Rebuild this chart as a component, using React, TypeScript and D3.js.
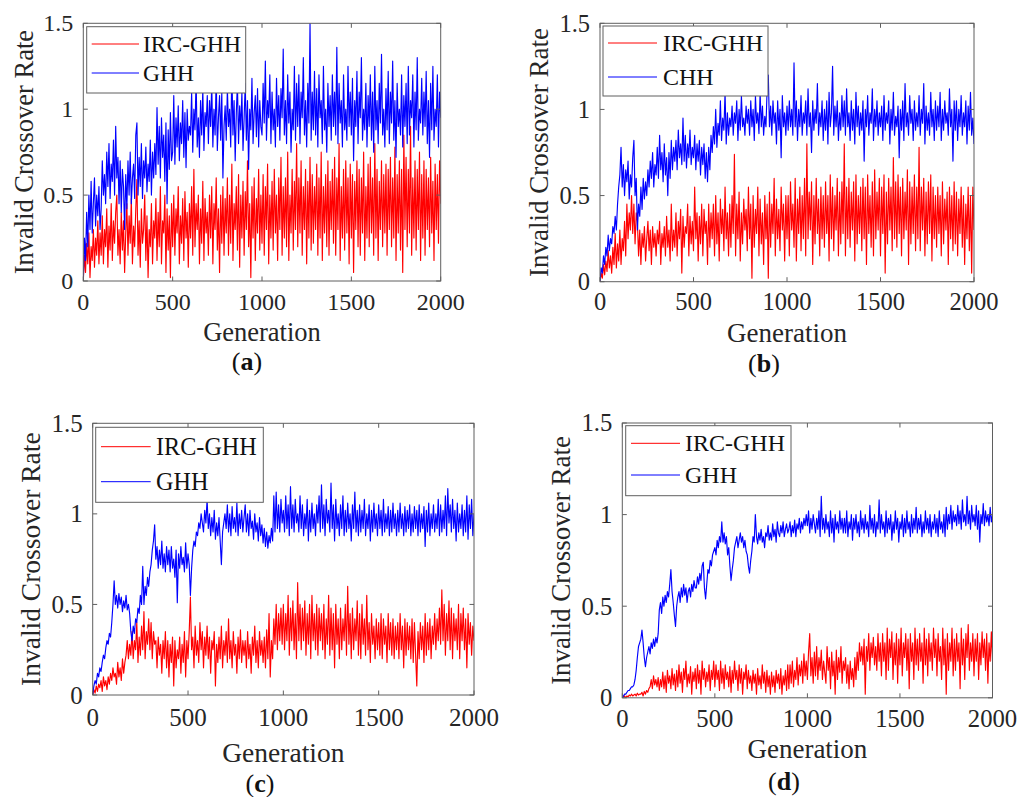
import React from "react";
import * as d3 from "d3";

// ---------- data ----------
// Each series: samples evenly spaced over generations 0..2000 (16 samples per 100 generations).
const MAX_GEN = 2000;
const X_TICKS = [0, 500, 1000, 1500, 2000];
const Y_TICKS = [0, 0.5, 1, 1.5];
const Y_TICK_LABELS = ["0", "0.5", "1", "1.5"];
const X_LABEL = "Generation";
const Y_LABEL = "Invalid Crossover Rate";
const PANEL_LETTERS = ["a", "b", "c", "d"];
const RED_NAMES = ["IRC-GHH", "IRC-GHH", "IRC-GHH", "IRC-GHH"];
const BLUE_NAMES = ["GHH", "CHH", "GHH", "GHH"];

// (a)
const IRC_A = [
  0, .15, .05, .22, .1, .28, .02, .2, .12, .3, .08, .25, .15, .35, .1, .28,
  .15, .38, .1, .3, .2, .42, .08, .32, .18, .45, .12, .35, .22, .4, .5, .15,
  .3, .1, .4, .18, .35, .05, .28, .45, .15, .38, .22, .48, .1, .32, .2, .42,
  .59, .15, .35, .08, .42, .22, .3, .5, .12, .38, .02, .3, .2, .45, .1, .35,
  .25, .48, .12, .4, .2, .55, .1, .35, .28, .5, .05, .42, .18, .38, .02, .45,
  .2, .5, .15, .42, .28, .55, .1, .38, .22, .48, .12, .52, .25, .4, .08, .45,
  .25, .55, .15, .65, .2, .45, .3, .5, .1, .42, .22, .58, .12, .48, .28, .4,
  .15, .5, .25, .55, .1, .45, .3, .6, .18, .42, .05, .5, .22, .55, .15, .48,
  .28, .6, .15, .5, .22, .68, .12, .45, .3, .55, .18, .62, .08, .5, .25, .58,
  .15, .52, .3, .7, .2, .45, .02, .55, .25, .6, .12, .48, .28, .65, .18, .5,
  .22, .62, .15, .55, .3, .68, .1, .5, .25, .58, .18, .65, .28, .5, .12, .6,
  .3, .72, .15, .55, .25, .6, .2, .75, .12, .5, .28, .65, .18, .58, .3, .8,
  .2, .6, .28, .7, .15, .55, .3, .65, .1, .58, .25, .72, .18, .62, .22, .55,
  .3, .68, .15, .6, .25, .75, .12, .55, .28, .62, .2, .7, .15, .58, .3, .65,
  .22, .72, .15, .6, .3, .8, .12, .55, .25, .65, .18, .7, .28, .6, .1, .68,
  .25, .62, .05, .58, .3, .7, .2, .65, .15, .6, .28, .75, .12, .55, .25, .68,
  .2, .72, .28, .6, .15, .8, .25, .65, .12, .58, .3, .7, .2, .62, .28, .68,
  .15, .65, .3, .72, .2, .6, .25, .78, .12, .62, .28, .7, .18, .65, .05, .85,
  .3, .72, .2, .65, .28, .9, .15, .6, .25, .7, .18, .65, .3, .75, .12, .62,
  .25, .7, .15, .65, .3, .6, .2, .72, .28, .58, .12, .68, .3, .62, .22, .7,
  .45,
];
const GHH_A = [
  0, .25, .12, .4, .2, .5, .3, .58, .28, .45, .6, .32, .5, .38, .55, .3,
  .42, .7, .5, .62, .45, .75, .55, .8, .48, .68, .58, .82, .5, .9, .6, .72,
  .45, .7, .4, .65, .55, .3, .62, .42, .7, .5, .75, .45, .6, .68, .48, .85,
  .92, .5, .72, .55, .8, .48, .7, .6, .78, .52, .68, .58, .82, .5, .75, .6,
  .8, .62, 1.01, .68, .9, .6, .95, .72, .85, .58, .92, .45, .88, .65, .98, .7,
  .75, 1.08, .68, .95, .78, 1.02, .7, .92, .8, 1.05, .72, .98, .66, 1.0, .82, .9,
  .85, 1.1, .75, 1.0, .88, 1.18, .78, .95, .72, 1.05, .85, 1.12, .76, .98, .9, 1.08,
  .8, 1.05, .9, 1.15, .78, 1.0, .85, 1.2, .76, .95, 1.08, .82, 1.1, .6, .9, 1.02,
  .82, 1.12, .9, 1.0, .78, 1.25, .85, 1.05, .7, .98, 1.15, .8, 1.02, .88, 1.1, .76,
  .95, 1.15, .82, 1.05, .65, 1.0, .88, 1.18, .8, .98, 1.08, .84, 1.12, .78, 1.05, .9,
  .85, 1.15, .92, 1.28, .82, 1.05, .95, 1.2, .8, 1.1, .88, 1.0, .78, 1.18, .9, 1.08,
  .82, 1.12, .95, 1.35, .85, 1.05, .8, 1.2, .92, 1.1, .75, 1.0, .88, 1.25, .82, 1.15,
  .9, 1.2, .8, 1.1, .95, 1.3, .85, 1.05, .78, 1.15, .92, 1.5, .82, 1.1, .88, 1.22,
  .85, 1.12, .78, 1.2, .95, 1.05, .8, 1.25, .88, 1.0, .75, 1.15, .9, 1.08, .82, 1.2,
  .9, 1.1, .85, 1.36, .8, 1.15, .92, 1.05, .78, 1.2, .88, 1.0, .82, 1.25, .9, 1.1,
  .85, 1.18, .7, 1.05, .9, 1.22, .8, 1.1, .95, 1.3, .82, 1.0, .88, 1.15, .78, 1.08,
  .9, 1.2, .82, 1.1, .75, 1.25, .88, 1.05, .8, 1.15, .92, 1.32, .85, 1.0, .78, 1.12,
  .88, 1.22, .8, 1.1, .92, 1.28, .82, 1.05, .72, 1.15, .9, 1.0, .85, 1.2, .78, 1.08,
  .9, 1.15, .8, 1.25, .85, 1.05, .95, 1.2, .78, 1.1, .88, 1.3, .82, 1.0, .92, 1.18,
  .85, 1.1, .9, 1.22, .8, 1.05, .72, 1.15, .88, 1.25, .82, 1.0, .9, 1.2, .78, 1.1,
  .95,
];
// (b)
const IRC_B = [
  0, .05, .02, .1, .04, .12, .06, .18, .08, .15, .05, .2, .1, .28, .08, .22,
  .12, .3, .1, .25, .18, .35, .15, .45, .25, .4, .3, .5, .28, .45, .22, .4,
  .35, .15, .3, .1, .28, .2, .32, .12, .25, .35, .18, .3, .1, .32, .2, .28,
  .15, .3, .22, .35, .1, .28, .2, .32, .15, .38, .2, .3, .12, .45, .18, .3,
  .2, .4, .15, .35, .25, .42, .05, .38, .2, .32, .28, .45, .15, .38, .22, .35,
  .18, .55, .25, .4, .12, .38, .22, .45, .15, .42, .28, .35, .1, .45, .2, .4,
  .25, .45, .15, .5, .22, .4, .12, .48, .28, .42, .18, .55, .25, .4, .15, .45,
  .2, .5, .28, .74, .15, .45, .25, .52, .12, .4, .22, .48, .3, .42, .18, .55,
  .25, .45, .02, .5, .2, .42, .28, .55, .15, .48, .22, .4, .1, .5, .25, .45,
  .02, .52, .2, .45, .28, .6, .15, .48, .25, .42, .18, .55, .3, .45, .12, .5,
  .25, .5, .15, .58, .3, .45, .2, .6, .12, .48, .28, .55, .18, .5, .25, .6,
  .15, .8, .25, .52, .3, .58, .1, .5, .22, .6, .28, .48, .15, .55, .25, .5,
  .2, .58, .28, .5, .12, .62, .25, .55, .18, .5, .3, .6, .15, .52, .22, .58,
  .28, .8, .15, .55, .25, .6, .2, .52, .3, .58, .12, .62, .22, .5, .28, .55,
  .18, .6, .25, .55, .1, .62, .28, .5, .2, .58, .15, .65, .25, .52, .3, .6,
  .15, .55, .28, .62, .05, .52, .22, .6, .3, .55, .18, .72, .25, .58, .2, .62,
  .28, .55, .15, .6, .25, .52, .3, .65, .1, .58, .22, .55, .28, .62, .18, .55,
  .25, .78, .18, .55, .3, .6, .15, .52, .22, .58, .28, .62, .12, .55, .25, .5,
  .2, .55, .28, .5, .15, .58, .22, .48, .3, .52, .1, .55, .25, .5, .18, .58,
  .22, .52, .15, .48, .28, .55, .2, .5, .1, .45, .25, .55, .18, .5, .05, .55,
  .3,
];
const CHH_B = [
  0, .08, .05, .15, .1, .2, .15, .27, .18, .25, .22, .32, .28, .38, .3, .45,
  .55, .62, .78, .55, .68, .5, .65, .58, .7, .48, .62, .55, .72, .82, .5, .6,
  .3, .45, .38, .55, .42, .6, .48, .58, .5, .65, .55, .7, .6, .75, .55, .68,
  .62, .78, .6, .85, .65, .75, .58, .8, .62, .72, .5, .75, .6, .82, .65, .78,
  .7, .82, .65, .88, .72, .8, .68, .95, .7, .85, .66, .8, .72, .88, .68, .78,
  .72, .85, .65, .8, .7, .82, .62, .78, .68, .8, .6, .75, .58, .78, .65, .85,
  .75, .9, .8, 1.0, .78, .92, .85, 1.05, .82, .95, .88, 1.1, .8, .98, .85, .95,
  .9, 1.02, .85, .98, .92, 1.05, .82, 1.0, .88, 1.08, .9, .95, .85, 1.02, .92, 1.0,
  .85, 1.05, .9, 1.0, .82, 1.08, .92, .98, .86, 1.1, .9, 1.02, .85, .96, .9, 1.12,
  1.2, .9, 1.02, .85, 1.05, .92, .98, .8, 1.05, .88, 1.0, .72, 1.08, .9, .98, .85,
  1.02, .88, 1.05, .9, 1.0, .85, 1.27, .9, 1.05, .82, 1.0, .9, 1.08, .85, .98, .92,
  1.05, .85, 1.12, .9, .98, .75, 1.05, .88, 1.0, .92, 1.15, .85, .98, .9, 1.05, .82,
  1.0, .88, 1.05, .8, 1.1, .9, .98, 1.25, .85, 1.02, .9, 1.05, .82, .98, .88, 1.08,
  .9, 1.05, .85, 1.12, .9, .98, .82, 1.05, .88, 1.0, .8, 1.1, .9, 1.02, .85, .98,
  .88, 1.05, .7, 1.0, .9, 1.08, .85, .98, .92, 1.12, .82, 1.0, .9, 1.05, .85, .98,
  .9, 1.02, .82, 1.08, .88, .98, .92, 1.05, .8, 1.0, .88, 1.1, .85, .96, .9, 1.02,
  .72, 1.0, .88, 1.05, .82, 1.15, .9, .98, .85, 1.08, .92, 1.0, .82, 1.05, .88, .98,
  .9, 1.08, .85, 1.0, .92, 1.15, .8, 1.02, .88, .98, .85, 1.1, .9, 1.0, .82, 1.05,
  .88, 1.02, .9, 1.1, .82, 1.0, .88, 1.05, .92, .98, .85, 1.12, .9, 1.0, .7, 1.05,
  .88, 1.05, .82, 1.0, .9, 1.08, .85, .98, .9, 1.05, .8, 1.02, .88, 1.1, .85, .95,
  .8,
];
// (c)
const IRC_C = [
  0, .03, .01, .05, .02, .06, .04, .08, .02, .1, .05, .08, .03, .1, .06, .12,
  .08, .15, .1, .12, .06, .18, .1, .15, .08, .2, .12, .18, .22, .3, .2, .28,
  .22, .35, .2, .3, .25, .4, .18, .32, .22, .38, .25, .46, .2, .35, .28, .42,
  .25, .4, .2, .35, .28, .3, .15, .32, .22, .28, .12, .3, .2, .35, .15, .3,
  .1, .28, .18, .32, .05, .3, .15, .25, .2, .32, .12, .28, .18, .35, .1, .3,
  .2, .35, .54, .25, .32, .15, .38, .22, .3, .18, .4, .25, .35, .15, .32, .22,
  .38, .2, .32, .12, .3, .25, .35, .05, .28, .18, .32, .2, .38, .15, .3, .22,
  .35, .18, .42, .2, .3, .15, .35, .22, .28, .12, .32, .2, .36, .18, .3, .22,
  .3, .15, .35, .2, .28, .12, .32, .22, .38, .18, .3, .15, .35, .22, .3, .18,
  .32, .15, .36, .2, .45, .1, .3, .2, .42, .28, .5, .25, .45, .3, .48, .28,
  .5, .25, .45, .3, .55, .22, .48, .3, .52, .25, .45, .2, .62, .3, .5, .25,
  .48, .3, .52, .22, .45, .28, .5, .2, .55, .3, .45, .25, .5, .22, .48, .3,
  .45, .25, .5, .2, .42, .28, .55, .22, .48, .25, .45, .15, .5, .28, .42, .2,
  .48, .25, .42, .3, .5, .22, .6, .28, .45, .2, .48, .25, .42, .3, .52, .22,
  .45, .2, .5, .28, .42, .22, .55, .25, .4, .18, .45, .28, .38, .2, .42, .25,
  .4, .22, .45, .2, .42, .28, .38, .18, .45, .25, .4, .22, .42, .2, .38, .25,
  .4, .2, .45, .25, .38, .15, .42, .22, .4, .25, .38, .2, .42, .18, .4, .22,
  .05, .35, .2, .4, .25, .38, .18, .45, .22, .4, .25, .42, .2, .38, .28, .45,
  .25, .42, .3, .48, .28, .58, .3, .5, .22, .45, .3, .52, .25, .48, .2, .45,
  .3, .42, .25, .5, .2, .45, .3, .48, .25, .42, .15, .45, .28, .4, .22, .38,
  .3,
];
const GHH_C = [
  0, .05, .08, .06, .12, .1, .15, .13, .18, .22, .2, .26, .3, .28, .34, .32,
  .4, .5, .63, .5, .55, .48, .56, .5, .54, .46, .52, .48, .55, .47, .5, .45,
  .35, .3, .38, .34, .42, .4, .48, .45, .55, .5, .71, .5, .6, .55, .65, .6,
  .68, .72, .8, .85, .94, .75, .82, .7, .8, .72, .85, .7, .78, .68, .82, .72,
  .8, .68, .82, .7, .75, .65, .8, .51, .78, .7, .82, .72, .76, .68, .84, .7,
  .78, .72, .55, .7, .8, .85, .82, .9, .88, .95, .92, 1.0, .95, .9, 1.02, .95,
  1.08, .92, 1.0, .88, .98, .9, 1.02, .86, .95, .88, .98, .85, .72, .9, .95, 1.0,
  .92, 1.05, .9, 1.0, .88, 1.04, .92, .98, .9, 1.06, .88, 1.0, .92, 1.02, .9, .98,
  1.05, .9, 1.0, .88, 1.02, .92, .96, .86, 1.0, .9, .95, .85, .98, .88, .94, .84,
  .92, .82, .9, .81, .88, .84, .92, .85, 1.1, .9, 1.12, .92, 1.05, .9, 1.08, .95,
  1.02, .9, 1.1, .92, 1.05, .88, 1.15, .92, 1.05, .9, 1.08, .95, 1.0, .9, 1.1, .92,
  1.05, .88, 1.0, .92, 1.08, .85, 1.02, .9, 1.06, .92, 1.0, .88, 1.05, .95, 1.1, .9,
  1.16, .92, 1.05, .88, 1.08, .95, 1.02, .9, 1.17, .92, 1.05, .85, 1.08, .92, 1.0, .88,
  1.05, .92, 1.1, .88, 1.02, .9, 1.06, .92, 1.0, .85, 1.05, .92, 1.12, .9, 1.02, .88,
  1.05, .9, 1.02, .92, 1.08, .88, 1.0, .92, 1.05, .85, 1.02, .9, 1.06, .92, 1.0, .88,
  1.05, .92, 1.02, .88, 1.08, .9, 1.0, .92, 1.04, .88, 1.02, .9, 1.06, .92, 1.0, .88,
  1.02, .9, 1.06, .92, 1.0, .88, 1.04, .9, 1.02, .92, 1.05, .88, 1.0, .9, 1.04, .92,
  1.02, .88, 1.05, .9, 1.0, .92, 1.04, .82, 1.02, .9, 1.06, .88, 1.0, .92, 1.05, .9,
  1.0, .92, 1.08, .88, 1.05, .9, 1.02, .92, 1.1, .88, 1.14, .95, 1.05, .9, 1.08, .92,
  1.02, .85, 1.06, .9, 1.0, .92, 1.05, .88, 1.02, .9, 1.1, .86, 1.05, .92, 1.08, .88,
  1.0,
];
// (d)
const IRC_D = [
  0, .005, .01, 0, .01, .005, .015, .01, .02, .01, .015, .02, .01, .025, .015, .02,
  .02, .03, .01, .035, .02, .04, .03, .05, .06, .1, .05, .12, .07, .1, .06, .11,
  .04, .1, .06, .14, .05, .12, .03, .15, .08, .12, .05, .16, .07, .13, .04, .15,
  .06, .18, .08, .14, .03, .16, .1, .2, .06, .13, .08, .17, .02, .14, .09, .16,
  .05, .18, .08, .15, .02, .2, .1, .16, .06, .14, .09, .18, .04, .15, .1, .2,
  .06, .18, .1, .15, .04, .2, .08, .16, .05, .18, .1, .14, .06, .17, .03, .15,
  .08, .2, .1, .15, .04, .18, .08, .16, .02, .14, .1, .18, .05, .15, .08, .12,
  .04, .15, .08, .13, .02, .16, .07, .12, .05, .18, .08, .14, .03, .15, .06, .12,
  .02, .14, .06, .12, .03, .15, .08, .13, .05, .16, .02, .12, .07, .15, .04, .18,
  .05, .18, .08, .2, .06, .15, .1, .22, .07, .18, .12, .2, .08, .24, .12, .2,
  .1, .25, .35, .12, .22, .08, .25, .12, .28, .1, .22, .15, .26, .1, .2, .14,
  .08, .28, .15, .22, .05, .25, .12, .2, .02, .26, .1, .22, .14, .28, .08, .2,
  .15, .22, .08, .18, .05, .2, .1, .16, .06, .22, .1, .25, .15, .3, .2, .28,
  .18, .32, .02, .28, .2, .35, .15, .3, .22, .33, .18, .28, .15, .35, .2, .3,
  .12, .35, .2, .3, .1, .38, .15, .32, .22, .36, .1, .3, .18, .35, .08, .32,
  .18, .38, .12, .3, .22, .35, .15, .32, .05, .35, .2, .3, .1, .38, .18, .32,
  .15, .35, .2, .3, .08, .38, .18, .32, .12, .35, .2, .3, .15, .38, .22, .32,
  .12, .35, .2, .28, .1, .38, .18, .32, .02, .35, .15, .3, .2, .38, .12, .32,
  .15, .35, .2, .3, .05, .38, .18, .32, .1, .35, .22, .4, .15, .3, .2, .35,
  .12, .32, .2, .35, .1, .3, .18, .36, .22, .32, .15, .35, .08, .3, .2, .36,
  .2,
];
const GHH_D = [
  0, .01, .02, .02, .03, .04, .04, .05, .06, .06, .07, .1, .15, .22, .28, .3,
  .32, .37, .3, .22, .17, .22, .25, .28, .24, .3, .27, .32, .28, .33, .3, .35,
  .48, .52, .46, .55, .5, .56, .52, .58, .55, .62, .7, .58, .52, .45, .39, .5,
  .55, .58, .52, .6, .55, .62, .56, .6, .52, .58, .6, .55, .62, .58, .64, .6,
  .6, .66, .62, .68, .64, .72, .74, .6, .54, .62, .7, .68, .75, .72, .78, .8,
  .82, .78, .86, .82, .88, .85, .96, .85, .9, .84, .88, .78, .82, .72, .64, .7,
  .75, .82, .85, .88, .82, .86, .9, .85, .88, .82, .86, .8, .78, .72, .68, .75,
  .8, .88, .85, 1.0, .88, .84, .9, .86, .92, .85, .88, .82, .9, .88, .94, .86,
  .9, .86, .95, .88, .92, .85, .96, .9, .88, .94, .9, .96, .88, .92, .95, .9,
  .92, .96, .88, .94, .9, .97, .88, .95, .92, .98, .9, .96, .92, .98, .94, 1.0,
  .94, 1.02, .9, .98, .92, 1.0, .95, .9, .98, .92, 1.02, .88, 1.1, .92, .98, .9,
  1.0, .92, .96, .88, 1.02, .9, .98, .85, 1.0, .92, .96, .9, 1.02, .92, .98, .9,
  .98, .9, 1.02, .88, .96, .92, 1.0, .86, .98, .92, 1.0, .9, .96, .88, 1.02, .92,
  .98, .9, 1.0, .92, .96, .88, 1.05, .92, .98, .9, 1.0, .88, .96, .92, 1.08, .9,
  1.0, .92, .96, .88, 1.02, .9, .98, .92, 1.0, .86, .96, .9, 1.02, .92, .98, .85,
  .96, .92, 1.0, .88, .98, .9, 1.02, .92, .96, .88, 1.0, .9, .98, .92, 1.04, .9,
  .98, .92, 1.0, .88, .96, .9, 1.02, .92, .98, .9, 1.0, .88, .96, .92, 1.0, .9,
  .98, .88, 1.02, .92, .96, .9, 1.0, .88, 1.04, .92, 1.0, .95, 1.05, .92, 1.02, .96,
  1.0, .94, 1.05, .95, 1.02, .92, 1.08, .96, 1.0, .94, 1.1, .95, 1.02, .92, 1.05, .96,
  1.0, .94, 1.05, .92, 1.02, .85, 1.0, .95, 1.06, .94, 1.02, .96, 1.0, .94, 1.04, .96,
  1.0,
];

const RED_SERIES = [IRC_A, IRC_B, IRC_C, IRC_D];
const BLUE_SERIES = [GHH_A, CHH_B, GHH_C, GHH_D];

// ---------- layout ----------
type Layout = {
  l: number; r: number; t: number; b: number;
  tickFont: number; labelFont: number; legFont: number;
  xTickBase: number; xLabelBase: number; letterBase: number; letterX: number;
  yLabelX: number;
  leg: { x0: number; y0: number; x1: number; y1: number; lx0: number; lx1: number; tx: number; r1: number; r2: number };
};

const LAYOUTS: Layout[] = [
  {
    l: 83.3, r: 440.7, t: 23.3, b: 281,
    tickFont: 24, labelFont: 26.5, legFont: 23.5,
    xTickBase: 310, xLabelBase: 341, letterBase: 370, letterX: 247, yLabelX: 33,
    leg: { x0: 86.7, y0: 26.7, x1: 245.7, y1: 93, lx0: 91.7, lx1: 139, tx: 143, r1: 44, r2: 73 },
  },
  {
    l: 600, r: 974, t: 23.3, b: 281.7,
    tickFont: 24.5, labelFont: 27, legFont: 24,
    xTickBase: 310, xLabelBase: 341.5, letterBase: 372, letterX: 764, yLabelX: 548,
    leg: { x0: 603, y0: 26, x1: 768, y1: 96, lx0: 608, lx1: 657, tx: 663, r1: 43, r2: 77 },
  },
  {
    l: 92.7, r: 474, t: 423.3, b: 695,
    tickFont: 25, labelFont: 27.5, legFont: 24.2,
    xTickBase: 726, xLabelBase: 761.5, letterBase: 792, letterX: 260, yLabelX: 40,
    leg: { x0: 95.7, y0: 427.3, x1: 263.3, y1: 502.3, lx0: 101, lx1: 150.7, tx: 156, r1: 446.7, r2: 481.7 },
  },
  {
    l: 622.3, r: 992.5, t: 423, b: 697.8,
    tickFont: 24.7, labelFont: 27, legFont: 24,
    xTickBase: 727, xLabelBase: 758, letterBase: 790, letterX: 784, yLabelX: 570,
    leg: { x0: 625.7, y0: 425.7, x1: 791, y1: 495.7, lx0: 631, lx1: 680, tx: 685, r1: 443.3, r2: 475 },
  },
];

const FONT = "'Liberation Serif', 'Times New Roman', serif";
const TEXT = "#262626";
const AXIS = "#5f5f5f";
const RED = "#ff0000";
const BLUE = "#0000ff";

function seriesPath(data: number[], x: d3.ScaleLinear<number, number>, y: d3.ScaleLinear<number, number>) {
  const step = MAX_GEN / (data.length - 1);
  const line = d3
    .line<number>()
    .x((_, i) => x(i * step))
    .y((d) => y(d));
  return line(data) || "";
}

function Panel({ idx }: { idx: number }) {
  const lay = LAYOUTS[idx];
  const x = d3.scaleLinear().domain([0, MAX_GEN]).range([lay.l, lay.r]);
  const y = d3.scaleLinear().domain([0, 1.5]).range([lay.b, lay.t]);
  const clipId = `clip-${idx}`;
  const tl = 4.5;
  const lg = lay.leg;
  const capH = lay.legFont * 0.33;
  return (
    <g>
      <defs>
        <clipPath id={clipId}>
          <rect x={lay.l} y={lay.t} width={lay.r - lay.l} height={lay.b - lay.t} />
        </clipPath>
      </defs>
      <rect x={lay.l} y={lay.t} width={lay.r - lay.l} height={lay.b - lay.t} fill="#fff" />
      <g clipPath={`url(#${clipId})`}>
        <path d={seriesPath(RED_SERIES[idx], x, y)} fill="none" stroke={RED} strokeWidth={1.15} strokeLinejoin="round" />
        <path d={seriesPath(BLUE_SERIES[idx], x, y)} fill="none" stroke={BLUE} strokeWidth={1.15} strokeLinejoin="round" />
      </g>
      {X_TICKS.map((t) => (
        <g key={`xt${t}`}>
          <line x1={x(t)} x2={x(t)} y1={lay.b} y2={lay.b - tl} stroke={AXIS} strokeWidth={1} />
          <line x1={x(t)} x2={x(t)} y1={lay.t} y2={lay.t + tl} stroke={AXIS} strokeWidth={1} />
          <text x={x(t)} y={lay.xTickBase} textAnchor="middle" fontFamily={FONT} fontSize={lay.tickFont} fill={TEXT}>
            {String(t)}
          </text>
        </g>
      ))}
      {Y_TICKS.map((t, i) => (
        <g key={`yt${t}`}>
          <line x1={lay.l} x2={lay.l + tl} y1={y(t)} y2={y(t)} stroke={AXIS} strokeWidth={1} />
          <line x1={lay.r} x2={lay.r - tl} y1={y(t)} y2={y(t)} stroke={AXIS} strokeWidth={1} />
          <text x={lay.l - 10} y={y(t)} dy="0.34em" textAnchor="end" fontFamily={FONT} fontSize={lay.tickFont} fill={TEXT}>
            {Y_TICK_LABELS[i]}
          </text>
        </g>
      ))}
      <rect x={lay.l} y={lay.t} width={lay.r - lay.l} height={lay.b - lay.t} fill="none" stroke={AXIS} strokeWidth={1} />
      <text x={(lay.l + lay.r) / 2} y={lay.xLabelBase} textAnchor="middle" fontFamily={FONT} fontSize={lay.labelFont} fill={TEXT}>
        {X_LABEL}
      </text>
      <text
        transform={`translate(${lay.yLabelX},${(lay.t + lay.b) / 2}) rotate(-90)`}
        textAnchor="middle"
        fontFamily={FONT}
        fontSize={lay.labelFont}
        fill={TEXT}
      >
        {Y_LABEL}
      </text>
      <rect x={lg.x0} y={lg.y0} width={lg.x1 - lg.x0} height={lg.y1 - lg.y0} fill="#fff" stroke={AXIS} strokeWidth={1} />
      <line x1={lg.lx0} x2={lg.lx1} y1={lg.r1} y2={lg.r1} stroke={RED} strokeWidth={1} />
      <text x={lg.tx} y={lg.r1 + capH} fontFamily={FONT} fontSize={lay.legFont} fill="#111">
        {RED_NAMES[idx]}
      </text>
      <line x1={lg.lx0} x2={lg.lx1} y1={lg.r2} y2={lg.r2} stroke={BLUE} strokeWidth={1} />
      <text x={lg.tx} y={lg.r2 + capH} fontFamily={FONT} fontSize={lay.legFont} fill="#111">
        {BLUE_NAMES[idx]}
      </text>
      <text x={lay.letterX} y={lay.letterBase} textAnchor="middle" fontFamily={FONT} fontSize={26} fill="#111">
        (<tspan fontWeight="bold">{PANEL_LETTERS[idx]}</tspan>)
      </text>
    </g>
  );
}

export default function App() {
  return (
    <svg
      width={1030}
      height={797}
      viewBox="0 0 1030 797"
      style={{ position: "absolute", left: 0, top: 0, background: "#fff" }}
    >
      <rect width={1030} height={797} fill="#fff" />
      {[0, 1, 2, 3].map((i) => (
        <Panel key={i} idx={i} />
      ))}
    </svg>
  );
}
